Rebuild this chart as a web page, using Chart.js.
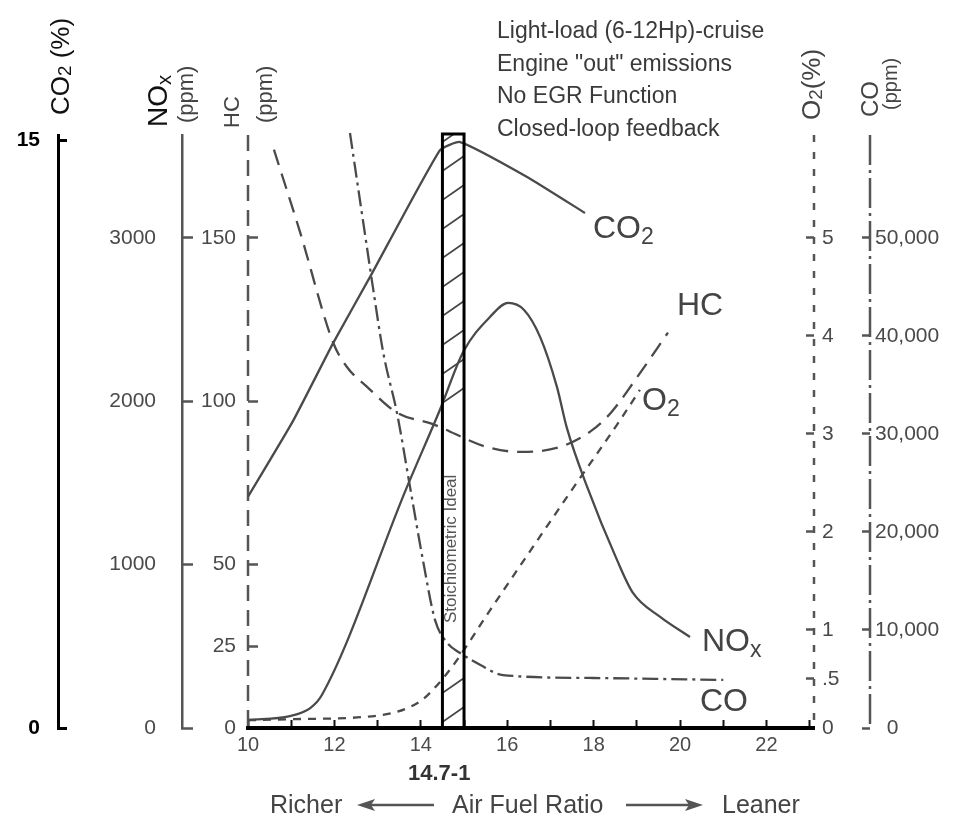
<!DOCTYPE html>
<html>
<head>
<meta charset="utf-8">
<title>Engine out emissions vs air fuel ratio</title>
<script src="https://cdn.jsdelivr.net/npm/chart.js@4/dist/chart.umd.min.js"></script>
<style>
  html, body { margin: 0; padding: 0; background: #fff; }
  #wrap { position: relative; width: 964px; height: 820px; font-family: "Liberation Sans", Arial, sans-serif; color: #444; }
  #wrap canvas { position: absolute; left: 0; top: 0; }
  .txt { position: absolute; white-space: nowrap; line-height: 1; pointer-events: none; }
  .vert { position: absolute; white-space: nowrap; writing-mode: vertical-rl; transform: rotate(180deg); text-align: start; height: 130px; pointer-events: none; }
  sub { font-size: 0.72em; vertical-align: -0.28em; line-height: 0; }
  .arrow { position: absolute; }
</style>
</head>
<body>
<div id="wrap">
  <canvas id="emissionsChart"></canvas>

  <!-- axis titles -->
  <div class="vert" style="left:45px; top:-15px; font-size:26px; line-height:30px; color:#111;">CO<sub>2</sub> (%)</div>
  <div class="vert" style="left:143px; top:-3px; font-size:28px; line-height:30px; color:#111;">NO<sub>x</sub></div>
  <div class="vert" style="left:173px; top:-7px; font-size:22px; line-height:26px;">(ppm)</div>
  <div class="vert" style="left:219px; top:-2px; font-size:22px; line-height:26px;">HC</div>
  <div class="vert" style="left:252px; top:-7px; font-size:22px; line-height:26px;">(ppm)</div>
  <div class="vert" style="left:796px; top:-10px; font-size:26px; line-height:30px;">O<sub>2</sub>(%)</div>
  <div class="vert" style="left:857px; top:-13px; font-size:24px; line-height:26px;">CO</div>
  <div class="vert" style="left:878px; top:-20px; font-size:20px; line-height:24px;">(ppm)</div>

  <!-- conditions note -->
  <div class="txt" style="left:497px; top:14px; font-size:23px; line-height:32.5px; color:#3a3a3a;">
    Light-load (6-12Hp)-cruise<br>Engine "out" emissions<br>No EGR Function<br>Closed-loop feedback
  </div>

  <!-- curve labels -->
  <div class="txt" style="left:593px; top:211px; font-size:32px;">CO<sub>2</sub></div>
  <div class="txt" style="left:677px; top:288px; font-size:32px;">HC</div>
  <div class="txt" style="left:642px; top:383px; font-size:32px;">O<sub>2</sub></div>
  <div class="txt" style="left:702px; top:624px; font-size:32px;">NO<sub>x</sub></div>
  <div class="txt" style="left:700px; top:684px; font-size:32px;">CO</div>

  <div class="vert" style="left:442px; top:493px; font-size:17px; line-height:18px; color:#555;">Stoichiometric Ideal</div>

  <!-- x axis captions -->
  <div class="txt" style="left:408px; top:762px; font-size:22px; font-weight:bold; color:#333;">14.7-1</div>
  <div class="txt" style="left:270px; top:792px; font-size:25px;">Richer</div>
  <svg class="arrow" style="left:357px; top:797px;" width="78" height="16">
    <line x1="77" y1="8" x2="12" y2="8" stroke="#555" stroke-width="2.5"/>
    <polygon points="0,8 18,2 14,8 18,14" fill="#555"/>
  </svg>
  <div class="txt" style="left:452px; top:792px; font-size:25px;">Air Fuel Ratio</div>
  <svg class="arrow" style="left:625px; top:797px;" width="78" height="16">
    <line x1="1" y1="8" x2="66" y2="8" stroke="#555" stroke-width="2.5"/>
    <polygon points="78,8 60,2 64,8 60,14" fill="#555"/>
  </svg>
  <div class="txt" style="left:722px; top:792px; font-size:25px;">Leaner</div>
</div>

<script>
// Air fuel ratio ticks
const AFR_TICKS = [10, 11, 12, 13, 14, 15, 16, 17, 18, 19, 20, 21, 22, 23];
const AFR_TICK_LABELS = ['10', '', '12', '', '14', '', '16', '', '18', '', '20', '', '22', ''];
const STOICH_AFR = [14.5, 15.0];

// CO2 (%)
const CO2_AFR = [10, 11.04, 11.97, 12.87, 14.44, 14.91, 16.46, 17.8];
const CO2_PCT = [5.9, 7.83, 9.82, 11.6, 14.74, 14.95, 14.06, 13.14];

// NOx (ppm)
const NOX_AFR = [10, 10.97, 11.44, 11.71, 13.68, 14.44, 14.98, 15.6, 16.02, 16.39, 16.76, 17.15, 17.38, 17.85, 18.54, 18.91, 19.54, 20.23];
const NOX_PPM = [50, 73, 122, 202, 1476, 1947, 2302, 2516, 2602, 2559, 2394, 2088, 1837, 1476, 1029, 827, 680, 557];

// HC (ppm)
const HC_AFR = [10.6, 11.2, 11.97, 12.29, 12.75, 13.45, 14.28, 15.53, 16.3, 17.22, 17.95, 18.4, 18.96, 19.72];
const HC_PPM = [177, 152, 118, 110.5, 104.5, 96.5, 93, 86, 84.5, 86, 91, 96.5, 106.5, 121];

// O2 (%)
const O2_AFR = [10, 11.04, 13.06, 13.98, 14.28, 14.75, 15.6, 16.46, 17.45, 18.61, 19.07];
const O2_PCT = [0.08, 0.09, 0.13, 0.27, 0.39, 0.64, 1.2, 1.76, 2.4, 3.14, 3.45];

// CO (ppm)
const CO_AFR = [12.36, 12.66, 12.89, 13.13, 13.45, 13.75, 14.05, 14.33, 14.61, 14.91, 15.37, 15.9, 17.99, 21.0];
const CO_PPM = [60700, 51800, 45000, 38300, 32100, 24600, 17100, 11000, 8700, 7650, 6450, 5400, 5100, 4900];

// axis ticks
const CO2_TICKS = [0, 15];
const CO2_TICK_LABELS = ['0', '15'];
const NOX_TICKS = [0, 1000, 2000, 3000];
const NOX_TICK_LABELS = ['0', '1000', '2000', '3000'];
const HC_TICKS = [0, 25, 50, 100, 150];
const HC_TICK_LABELS = ['0', '25', '50', '100', '150'];
const O2_TICKS = [0, 0.5, 1, 2, 3, 4, 5];
const O2_TICK_LABELS = ['0', '.5', '1', '2', '3', '4', '5'];
const CO_TICKS = [0, 10000, 20000, 30000, 40000, 50000];
const CO_TICK_LABELS = ['  0', '10,000', '20,000', '30,000', '40,000', '50,000'];

// axis ranges (all share the same 0 line, top of plot sits just above 15% CO2)
const AFR_MAX = 23.1;
const CO2_MAX = 15.13;
const NOX_MAX = 3630;
const HC_MAX = 181.5;
const O2_MAX = 6.05;
const CO_MAX = 60500;

const FONT = '"Liberation Sans", Arial, sans-serif';
const CURVE = '#4a4a4a';
const GREY = '#555';

// broken axis lines (Chart.js only dashes grid lines, not the border)
const AXIS_DASH = { yHC: [16, 9], yO2: [7, 10], yCO: [30, 5, 3, 5] };

function series(xs, ys) {
    return xs.map((x, i) => ({ x: x, y: ys[i] }));
}

function yAxis(opts) {
    return {
        type: 'linear',
        position: opts.position,
        weight: opts.weight,
        min: 0,
        max: opts.max,
        afterBuildTicks: s => { s.ticks = opts.ticks.map(v => ({ value: v })); },
        afterFit: s => { s.width = opts.width; },
        ticks: {
            autoSkip: false,
            padding: opts.padding,
            color: opts.color || '#4a4a4a',
            font: opts.font || { family: FONT, size: 21 },
            callback: (v, i) => opts.labels[i]
        },
        grid: { drawOnChartArea: false, tickLength: opts.tick, tickColor: opts.lineColor, tickWidth: opts.lineWidth },
        border: { display: !opts.dashed, color: opts.lineColor, width: opts.lineWidth }
    };
}

const dashedAxes = {
    id: 'dashedAxes',
    beforeDatasetsDraw(chart) {
        const ctx = chart.ctx;
        Object.keys(AXIS_DASH).forEach(id => {
            const s = chart.scales[id];
            const x = s.position === 'left' ? s.right : s.left;
            ctx.save();
            ctx.strokeStyle = GREY;
            ctx.lineWidth = 2.5;
            ctx.setLineDash(AXIS_DASH[id]);
            ctx.beginPath();
            ctx.moveTo(x, s.top);
            ctx.lineTo(x, s.bottom);
            ctx.stroke();
            ctx.restore();
        });
    }
};

// hatched stoichiometric window
const stoichBox = {
    id: 'stoichBox',
    beforeDatasetsDraw(chart) {
        const { ctx, chartArea, scales } = chart;
        const left = scales.x.getPixelForValue(STOICH_AFR[0]);
        const right = scales.x.getPixelForValue(STOICH_AFR[1]);
        ctx.save();
        ctx.beginPath();
        ctx.rect(left, chartArea.top, right - left, chartArea.bottom - chartArea.top);
        ctx.clip();
        ctx.strokeStyle = '#444';
        ctx.lineWidth = 1.6;
        for (let y = chartArea.bottom - 6; y > chartArea.top; y -= 29) {
            // leave room for the label
            if (y > 418 && y < 680) continue;
            ctx.beginPath();
            ctx.moveTo(left, y);
            ctx.lineTo(right, y - 15);
            ctx.stroke();
        }
        ctx.restore();
    },
    afterDatasetsDraw(chart) {
        const { ctx, chartArea, scales } = chart;
        const left = scales.x.getPixelForValue(STOICH_AFR[0]);
        const right = scales.x.getPixelForValue(STOICH_AFR[1]);
        ctx.save();
        ctx.strokeStyle = '#000';
        ctx.lineWidth = 3;
        ctx.strokeRect(left, chartArea.top - 1, right - left, chartArea.bottom - chartArea.top + 1);
        ctx.restore();
    }
};

document.addEventListener('DOMContentLoaded', function() {
    const ctx = document.getElementById('emissionsChart').getContext('2d');
    const line = { borderColor: CURVE, borderWidth: 2.3, pointRadius: 0, fill: false, clip: false };

    new Chart(ctx, {
        type: 'line',
        data: {
            datasets: [
                { ...line, label: 'CO2', data: series(CO2_AFR, CO2_PCT), yAxisID: 'yCO2', tension: 0.15 },
                { ...line, label: 'NOx', data: series(NOX_AFR, NOX_PPM), yAxisID: 'yNOx', cubicInterpolationMode: 'monotone' },
                { ...line, label: 'HC', data: series(HC_AFR, HC_PPM), yAxisID: 'yHC', cubicInterpolationMode: 'monotone', borderDash: [16, 9] },
                { ...line, label: 'O2', data: series(O2_AFR, O2_PCT), yAxisID: 'yO2', cubicInterpolationMode: 'monotone', borderDash: [8, 7] },
                { ...line, label: 'CO', data: series(CO_AFR, CO_PPM), yAxisID: 'yCO', cubicInterpolationMode: 'monotone', borderDash: [16, 5, 3, 5] }
            ]
        },
        options: {
            responsive: true,
            maintainAspectRatio: false,
            animation: false,
            events: [],
            layout: { padding: { top: 135, left: 0, right: 0, bottom: 0 } },
            plugins: {
                legend: { display: false },
                tooltip: { enabled: false },
                colors: { enabled: false }
            },
            scales: {
                x: {
                    type: 'linear',
                    position: 'bottom',
                    min: 10,
                    max: AFR_MAX,
                    afterBuildTicks: s => { s.ticks = AFR_TICKS.map(v => ({ value: v })); },
                    afterFit: s => { s.height = 92; },
                    ticks: {
                        autoSkip: false,
                        maxRotation: 0,
                        padding: 13,
                        color: '#4a4a4a',
                        font: { family: FONT, size: 20 },
                        callback: (v, i) => AFR_TICK_LABELS[i]
                    },
                    grid: { drawOnChartArea: false, tickLength: -8, tickColor: '#111', tickWidth: 2 },
                    border: { color: '#000', width: 4 }
                },
                yCO2: yAxis({ position: 'left', weight: 3, max: CO2_MAX, ticks: CO2_TICKS, labels: CO2_TICK_LABELS,
                    width: 58, padding: 27, tick: -9, lineColor: '#000', lineWidth: 3,
                    color: '#000', font: { family: FONT, size: 21, weight: 'bold' } }),
                yNOx: yAxis({ position: 'left', weight: 2, max: NOX_MAX, ticks: NOX_TICKS, labels: NOX_TICK_LABELS,
                    width: 124, padding: 37, tick: -11, lineColor: GREY, lineWidth: 2.5 }),
                yHC: yAxis({ position: 'left', weight: 1, max: HC_MAX, ticks: HC_TICKS, labels: HC_TICK_LABELS,
                    width: 66, padding: 22, tick: -10, lineColor: GREY, lineWidth: 2.5, dashed: true }),
                yO2: yAxis({ position: 'right', weight: 1, max: O2_MAX, ticks: O2_TICKS, labels: O2_TICK_LABELS,
                    width: 56, padding: 16, tick: -8, lineColor: GREY, lineWidth: 2.5, dashed: true }),
                yCO: yAxis({ position: 'right', weight: 2, max: CO_MAX, ticks: CO_TICKS, labels: CO_TICK_LABELS,
                    width: 94, padding: 13, tick: -8, lineColor: GREY, lineWidth: 2.5, dashed: true })
            }
        },
        plugins: [dashedAxes, stoichBox]
    });
});
</script>
</body>
</html>
